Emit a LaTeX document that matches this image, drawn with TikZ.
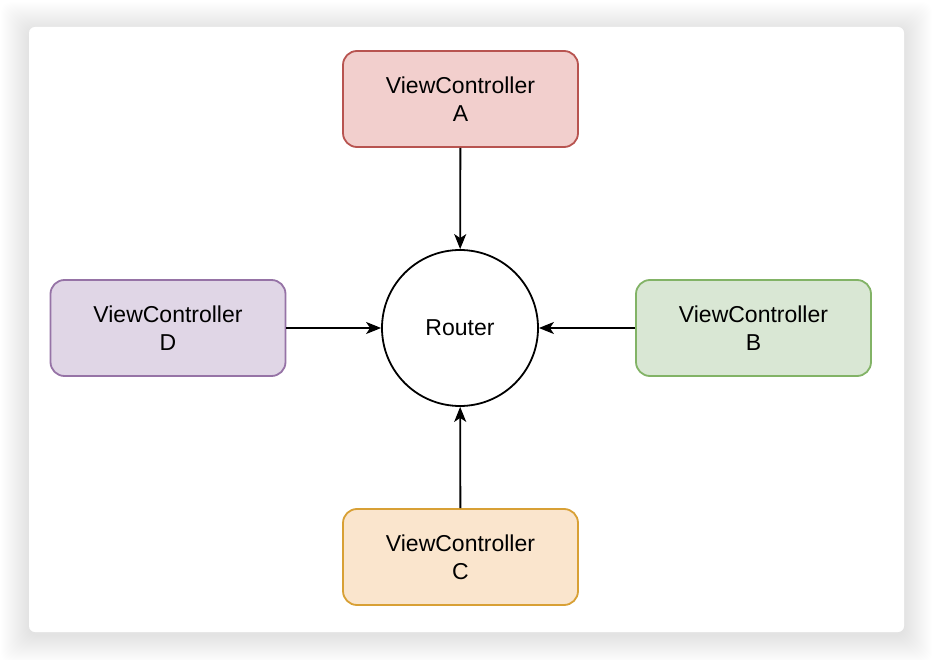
\documentclass[tikz,border=0pt]{standalone}
\usepackage{fontspec}
\setmainfont{Liberation Sans}
\usetikzlibrary{arrows.meta,positioning}
\definecolor{redfill}{HTML}{F2CFCD}\definecolor{redline}{HTML}{B85450}
\definecolor{greenfill}{HTML}{D9E7D4}\definecolor{greenline}{HTML}{82B366}
\definecolor{orangefill}{HTML}{FAE5CD}\definecolor{orangeline}{HTML}{D8A035}
\definecolor{purplefill}{HTML}{E0D6E6}\definecolor{purpleline}{HTML}{9673A6}
\tikzset{
  vcbox/.style={draw, rounded corners=14pt, line width=1.8pt, minimum width=235pt,
    minimum height=96pt, align=center, font=\fontsize{23}{28}\selectfont},
  routernode/.style={draw, circle, line width=1.8pt, minimum size=156pt, inner sep=0pt,
    font=\fontsize{23}{28}\selectfont},
  link/.style={-{Stealth[length=15pt,width=12pt,inset=4pt]}, line width=1.8pt}
}
\begin{document}
\begin{tikzpicture}[x=1pt,y=-1pt]  %Janela com sombra
  \useasboundingbox (0,0) rectangle (932,660);
  \foreach \i in {1,...,28}
    \fill[black, opacity=0.005, rounded corners=10pt] (29-\i,30-\i) rectangle (904+\i,635+\i); %Sombra
  \fill[white, rounded corners=6pt] (29,27) rectangle (904,632); %Fundo branco
      %Nos
  \node[routernode] (router) at (460,328) {Router};
  \node[vcbox, fill=redfill, draw=redline] (vcA) at (460.5,99) {ViewController\\A};
  \node[vcbox, fill=greenfill, draw=greenline] (vcB) at (753.5,328) {ViewController\\B};
  \node[vcbox, fill=orangefill, draw=orangeline] (vcC) at (460.5,557) {ViewController\\C};
  \node[vcbox, fill=purplefill, draw=purpleline] (vcD) at (168,328) {ViewController\\D};
      %Setas
  \draw[link] (vcA) -- (router);
  \draw[link] (vcB) -- (router);
  \draw[link] (vcC) -- (router);
  \draw[link] (vcD) -- (router);
\end{tikzpicture}
\end{document}
